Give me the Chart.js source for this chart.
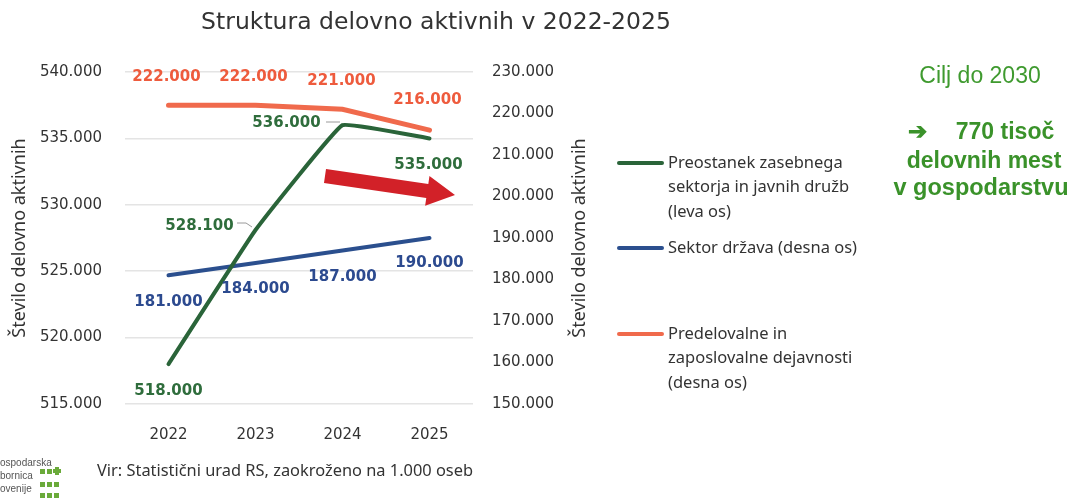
<!DOCTYPE html>
<html><head><meta charset="utf-8">
<script src="https://cdn.jsdelivr.net/npm/chart.js@4/dist/chart.umd.min.js"></script>
<style>html,body{margin:0;padding:0;background:#fff;}#wrap{position:relative;width:1073px;height:499px;}</style>
</head><body><div id="wrap"><canvas id="c" width="1073" height="499"></canvas></div>
<script>
// ---- data ----
const years = ['2022', '2023', '2024', '2025'];
const privateSector = [518000, 528100, 536000, 535000];   // left axis
const stateSector = [181000, 184000, 187000, 190000];     // right axis
const manufacturing = [222000, 222000, 221000, 216000];   // right axis
const leftAxisRange = [515000, 540000, 5000];
const rightAxisRange = [150000, 230000, 10000];
const seriesNames = [
  ['Preostanek zasebnega', 'sektorja in javnih družb', '(leva os)'],
  ['Sektor država (desna os)'],
  ['Predelovalne in', 'zaposlovalne dejavnosti', '(desna os)']
];
const titleText = 'Struktura delovno aktivnih v 2022-2025';
const axisTitle = 'Število delovno aktivnih';
const goalLines = ['Cilj do 2030', '770 tisoč', 'delovnih mest', 'v gospodarstvu'];
const sourceText = 'Vir: Statistični urad RS, zaokroženo na 1.000 oseb';

const fmt = v => String(Math.round(v)).replace(/\B(?=(\d{3})+(?!\d))/g, '.');

const GREEN = '#2a6439', BLUE = '#2b4f8e', ORANGE = '#f06a4c';
const GREEN_L = '#2f6d3c', BLUE_L = '#2c4a8f', ORANGE_L = '#ee5b3d';

const labelOffsets = [
  [[0, 27], [-56, -4], [-56, -2], [-1, 27]],
  [[0, 27], [0, 26], [0, 27], [0, 25]],
  [[-2, -28], [-2, -28], [-1, -28], [-2, -30]]
];
const labelColors = [GREEN_L, BLUE_L, ORANGE_L];

const extras = {
  id: 'extras',
  afterDatasetsDraw(chart) {
    const ctx = chart.ctx;
    ctx.save();
    // leader lines
    ctx.strokeStyle = '#9a9a9a'; ctx.lineWidth = 1;
    ctx.beginPath(); ctx.moveTo(237, 223); ctx.lineTo(246, 223); ctx.lineTo(252, 227); ctx.stroke();
    ctx.beginPath(); ctx.moveTo(326, 122); ctx.lineTo(340, 122); ctx.stroke();
    // data labels
    ctx.font = 'bold 15px "DejaVu Sans"';
    ctx.textAlign = 'center'; ctx.textBaseline = 'middle';
    chart.data.datasets.forEach((ds, di) => {
      const meta = chart.getDatasetMeta(di);
      meta.data.forEach((pt, i) => {
        const o = labelOffsets[di][i];
        ctx.fillStyle = labelColors[di];
        ctx.fillText(fmt(ds.data[i]), pt.x + o[0], pt.y + o[1]);
      });
    });
    // red arrow
    const x0 = 325, y0 = 176, x1 = 455, y1 = 195;
    const ang = Math.atan2(y1 - y0, x1 - x0);
    const len = Math.hypot(x1 - x0, y1 - y0);
    ctx.translate(x0, y0); ctx.rotate(ang);
    ctx.fillStyle = '#d22128';
    ctx.beginPath();
    ctx.moveTo(0, -7); ctx.lineTo(len - 28, -7); ctx.lineTo(len - 28, -15);
    ctx.lineTo(len, 0); ctx.lineTo(len - 28, 15); ctx.lineTo(len - 28, 7); ctx.lineTo(0, 7);
    ctx.closePath(); ctx.fill();
    ctx.restore();
  },
  afterDraw(chart) {
    const ctx = chart.ctx;
    ctx.save();
    // title
    ctx.fillStyle = '#333';
    ctx.font = '23.5px "DejaVu Sans"';
    ctx.textAlign = 'center'; ctx.textBaseline = 'middle';
    ctx.fillText(titleText, 436, 23);
    // right axis title (bottom to top)
    ctx.save();
    ctx.translate(580, 238); ctx.rotate(-Math.PI / 2);
    ctx.font = '18px "Noto Sans"'; ctx.fillStyle = '#333';
    ctx.fillText(axisTitle, 0, 0);
    ctx.restore();
    // legend
    const colors = [GREEN, BLUE, ORANGE];
    const ys = [163, 248, 334];
    ctx.lineCap = 'round'; ctx.lineWidth = 4;
    ctx.textAlign = 'left';
    ctx.font = '16.5px "Noto Sans"';
    seriesNames.forEach((lines, k) => {
      ctx.strokeStyle = colors[k];
      ctx.beginPath(); ctx.moveTo(619, ys[k]); ctx.lineTo(662, ys[k]); ctx.stroke();
      ctx.fillStyle = '#333';
      lines.forEach((t, j) => ctx.fillText(t, 668, ys[k] + j * 24.5));
    });
    // goal text
    ctx.textAlign = 'center';
    ctx.fillStyle = '#3f9a2f';
    ctx.font = '23px "Liberation Sans"';
    ctx.fillText(goalLines[0], 980, 77);
    ctx.font = 'bold 23px "Liberation Sans"';
    ctx.fillStyle = '#3a922a';
    ctx.fillText('➔', 917, 133);
    ctx.fillText(goalLines[1], 1005, 133);
    ctx.fillText(goalLines[2], 984, 162);
    ctx.font = 'bold 23.5px "Liberation Sans"';
    ctx.fillText(goalLines[3], 981, 189);
    // source
    ctx.textAlign = 'left'; ctx.fillStyle = '#333';
    ctx.font = '16.4px "Noto Sans"';
    ctx.fillText(sourceText, 97, 471);
    // logo
    ctx.font = '10px "Liberation Sans"';
    ctx.fillStyle = '#555';
    ctx.fillText('ospodarska', 0, 463);
    ctx.fillText('bornica', 0, 476);
    ctx.fillText('ovenije', 0, 489);
    ctx.fillStyle = '#6aaa3a';
    [[40, 472], [47, 472], [40, 485], [47, 485], [54, 485], [40, 496], [47, 496], [54, 496]].forEach(p => ctx.fillRect(p[0], p[1] - 3, 5, 5));
    ctx.fillRect(55, 467, 4, 8); ctx.fillRect(53, 469, 8, 4);
    ctx.restore();
  }
};

new Chart(document.getElementById('c'), {
  type: 'line',
  data: {
    labels: years,
    datasets: [
      { label: seriesNames[0].join(' '), data: privateSector, yAxisID: 'y', borderColor: GREEN, borderWidth: 4, tension: 0.08, pointRadius: 0, borderCapStyle: 'round', order: 1 },
      { label: seriesNames[1].join(' '), data: stateSector, yAxisID: 'y1', borderColor: BLUE, borderWidth: 4, tension: 0, pointRadius: 0, borderCapStyle: 'round', order: 2 },
      { label: seriesNames[2].join(' '), data: manufacturing, yAxisID: 'y1', borderColor: ORANGE, borderWidth: 5, tension: 0, pointRadius: 0, borderCapStyle: 'round', order: 3 }
    ]
  },
  options: {
    responsive: false, animation: false, devicePixelRatio: 1,
    layout: { padding: { top: 72, right: 480, left: 0, bottom: 0 } },
    plugins: { legend: { display: false }, tooltip: { enabled: false }, title: { display: false } },
    scales: {
      x: {
        offset: true,
        grid: { display: false }, border: { display: false },
        ticks: { color: '#333', font: { family: 'DejaVu Sans', size: 15 }, padding: 14 },
        afterFit: s => { s.height = 95; }
      },
      y: {
        position: 'left', min: leftAxisRange[0], max: leftAxisRange[1],
        grid: { color: '#e4e4e4', lineWidth: 1.5, drawTicks: false }, border: { display: false },
        ticks: { stepSize: leftAxisRange[2], callback: v => fmt(v), color: '#333', font: { family: 'DejaVu Sans', size: 15 }, padding: 23 },
        title: { display: true, text: axisTitle, color: '#333', font: { family: 'Noto Sans', size: 18 }, padding: { top: 9, bottom: 0 } },
        afterFit: s => { s.width = 125; }
      },
      y1: {
        position: 'right', min: rightAxisRange[0], max: rightAxisRange[1],
        grid: { display: false, drawTicks: false }, border: { display: false },
        ticks: { stepSize: rightAxisRange[2], callback: v => fmt(v), color: '#333', font: { family: 'DejaVu Sans', size: 15 }, padding: 19 },
        afterFit: s => { s.width = 120; }
      }
    }
  },
  plugins: [extras]
});
</script>
</body></html>
